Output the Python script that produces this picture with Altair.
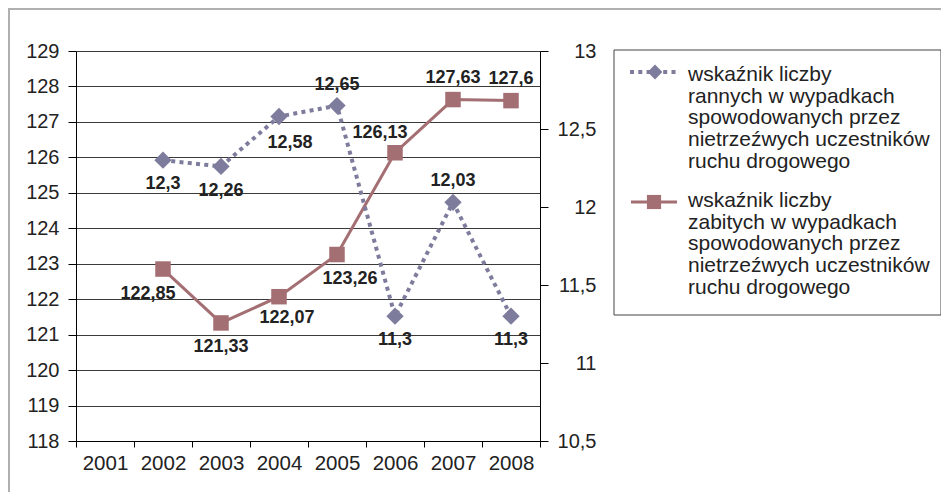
import altair as alt
import pandas as pd

# ---------------- data ----------------
years = ["2001", "2002", "2003", "2004", "2005", "2006", "2007", "2008"]
data_years = ["2002", "2003", "2004", "2005", "2006", "2007", "2008"]
injured = [12.3, 12.26, 12.58, 12.65, 11.3, 12.03, 11.3]          # right axis
killed = [122.85, 121.33, 122.07, 123.26, 126.13, 127.63, 127.6]  # left axis
left_ticks = [118, 119, 120, 121, 122, 123, 124, 125, 126, 127, 128, 129]
right_ticks = [10.5, 11, 11.5, 12, 12.5, 13]

legend_injured = ["wskaźnik liczby", "rannych w wypadkach", "spowodowanych przez",
                  "nietrzeźwych uczestników", "ruchu drogowego"]
legend_killed = ["wskaźnik liczby", "zabitych w wypadkach", "spowodowanych przez",
                 "nietrzeźwych uczestników", "ruchu drogowego"]

# label placement offsets (pixels)
inj_dx = [0, 0, 11, 0, 0, 0, 0]
inj_dy = [24, 25, 26, -21, 24, -21, 24]
kil_dx = [-15, 0, 8, 13, -15, 0, 0]
kil_dy = [25, 24, 21, 24, -20, -22, -22]

# ---------------- styles ----------------
BLUE = "#7E7C9C"
RED = "#A46F73"
FONT = "Liberation Sans"
W, H = 464, 390


def fmt(v):
    return ("%g" % v).replace(".", ",")


df_inj = pd.DataFrame({"year": data_years, "v": injured,
                       "lab": [fmt(v) for v in injured], "dx": inj_dx, "dy": inj_dy})
df_kil = pd.DataFrame({"year": data_years, "v": killed,
                       "lab": [fmt(v) for v in killed], "dx": kil_dx, "dy": kil_dy})

x_enc = alt.X(
    "year:O",
    scale=alt.Scale(domain=years, paddingInner=0, paddingOuter=0),
    axis=alt.Axis(title=None, tickBand="extent", labelAngle=0, tickSize=6,
                  labelPadding=6, domainColor="#000", tickColor="#000",
                  labelFontSize=20.5, labelFont=FONT, labelColor="#222",
                  labelBaseline="top", grid=False),
)

y_left = alt.Y(
    "v:Q",
    scale=alt.Scale(domain=[118, 129], nice=False, zero=False),
    axis=alt.Axis(title=None, orient="left", values=left_ticks, grid=True,
                  gridColor="#3a3a3a", gridWidth=1.2, tickSize=8, labelPadding=9,
                  domainColor="#000", tickColor="#000", labelFontSize=20,
                  labelFont=FONT, labelColor="#222"),
)
y_right = alt.Y(
    "v:Q",
    scale=alt.Scale(domain=[10.5, 13], nice=False, zero=False),
    axis=alt.Axis(title=None, orient="right", values=right_ticks, grid=False,
                  tickSize=8, labelPadding=48, labelAlign="right",
                  labelExpr="replace(format(datum.value, ''), '.', ',')",
                  domainColor="#000", tickColor="#000", labelFontSize=20,
                  labelFont=FONT, labelColor="#222"),
)


def label_layers(df, y):
    layers = []
    for (dx, dy), sub in df.groupby(["dx", "dy"]):
        layers.append(
            alt.Chart(sub).mark_text(dx=int(dx), dy=int(dy), font=FONT, fontSize=18,
                                     fontWeight="bold", color="#222")
            .encode(x=x_enc, y=y, text="lab:N")
        )
    return layers


red_base = alt.Chart(df_kil)
red = alt.layer(
    red_base.mark_line(color=RED, strokeWidth=3).encode(x=x_enc, y=y_left),
    red_base.mark_point(shape="square", size=240, filled=True, opacity=1, color=RED)
    .encode(x=x_enc, y=y_left),
    *label_layers(df_kil, y_left),
)

blue_base = alt.Chart(df_inj)
blue = alt.layer(
    blue_base.mark_line(color=BLUE, strokeWidth=4, strokeDash=[4, 4.3], strokeCap="butt")
    .encode(x=x_enc, y=y_right),
    blue_base.mark_point(shape="diamond", size=300, filled=True, opacity=1, color=BLUE)
    .encode(x=x_enc, y=y_right),
    *label_layers(df_inj, y_right),
)

# ---------------- decorations (frame, legend) ----------------
deco = alt.Chart(pd.DataFrame({"d": [0]}))
frame_top = deco.mark_rule(color="#b0b0b0", strokeWidth=2).encode(
    x=alt.value(-68), x2=alt.value(W + 401), y=alt.value(-42))
frame_left = deco.mark_rule(color="#b0b0b0", strokeWidth=2).encode(
    x=alt.value(-67), y=alt.value(-43), y2=alt.value(H + 51))

leg_box = deco.mark_rect(fill="white", stroke="#444", strokeWidth=1).encode(
    x=alt.value(538), x2=alt.value(865), y=alt.value(-1), y2=alt.value(264))
leg1_line = deco.mark_rule(color=BLUE, strokeWidth=4, strokeDash=[4, 4.3]).encode(
    x=alt.value(554), x2=alt.value(601), y=alt.value(21))
leg1_sym = deco.mark_point(shape="diamond", size=220, filled=True, opacity=1, color=BLUE).encode(
    x=alt.value(579), y=alt.value(21))
leg2_line = deco.mark_rule(color=RED, strokeWidth=3).encode(
    x=alt.value(555), x2=alt.value(601), y=alt.value(151))
leg2_sym = deco.mark_point(shape="square", size=200, filled=True, opacity=1, color=RED).encode(
    x=alt.value(578), y=alt.value(151))
leg1_txt = deco.mark_text(align="left", baseline="alphabetic", font=FONT, fontSize=21,
                          color="#222", lineHeight=21.7).encode(
    x=alt.value(612), y=alt.value(30), text=alt.value(legend_injured))
leg2_txt = deco.mark_text(align="left", baseline="alphabetic", font=FONT, fontSize=21,
                          color="#222", lineHeight=21.7).encode(
    x=alt.value(612), y=alt.value(156), text=alt.value(legend_killed))

chart = alt.layer(
    red, blue,
    frame_top, frame_left,
    leg_box, leg1_line, leg1_sym, leg2_line, leg2_sym, leg1_txt, leg2_txt,
).resolve_scale(y="independent").properties(
    width=W, height=H,
    autosize=alt.AutoSizeParams(type="none"),
    padding={"left": 68, "top": 43, "right": 401, "bottom": 51},
    background="white",
).configure_view(stroke=None)

chart.save("out.html", embed_options={"renderer": "svg", "actions": False})
